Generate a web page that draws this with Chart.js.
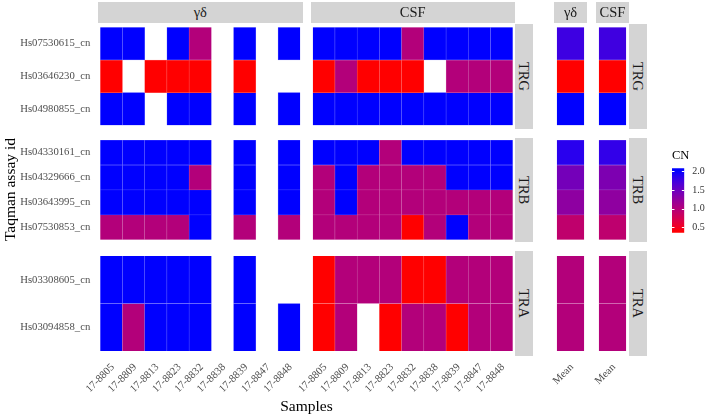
<!DOCTYPE html>
<html><head><meta charset="utf-8">
<script src="https://cdn.jsdelivr.net/npm/chart.js@4.4.1/dist/chart.umd.min.js"></script>
<style>
html,body{margin:0;padding:0;background:#fff;}
#wrap{position:relative;width:709px;height:418px;overflow:hidden;font-family:'Liberation Serif','Times New Roman',serif;}
#wrap canvas{position:absolute;left:0;top:0;}
.strip{position:absolute;background:#D4D4D4;color:#1A1A1A;font-size:14.5px;line-height:1;display:flex;align-items:center;justify-content:center;white-space:nowrap;}
.vtext{writing-mode:vertical-rl;}
.title{position:absolute;color:#000;font-size:15.5px;font-weight:normal;line-height:1;white-space:nowrap;}
.ytitle{position:absolute;color:#000;font-size:15.5px;font-weight:normal;line-height:1;white-space:nowrap;display:flex;align-items:center;justify-content:center;}
.ytitle span{writing-mode:vertical-rl;transform:rotate(180deg);}
</style></head><body><div id="wrap"></div>
<script>
// ---------------- data ----------------
const samples = ['17-8805','17-8809','17-8813','17-8823','17-8832','17-8838','17-8839','17-8847','17-8848'];
const meanLabel = ['Mean'];
const groupNames = ['γδ','CSF'];
const geneNames = ['TRG','TRB','TRA'];
const trgAssays = ['Hs07530615_cn','Hs03646230_cn','Hs04980855_cn'];
const trbAssays = ['Hs04330161_cn','Hs04329666_cn','Hs03643995_cn','Hs07530853_cn'];
const traAssays = ['Hs03308605_cn','Hs03094858_cn'];

// γδ samples (rows = assays, columns = samples)
const gdTRG = [
  [2, 2, null, 2, 1, null, 2, null, 2],
  [0.4, null, 0.4, 0.4, 0.4, null, 0.4, null, null],
  [2, 2, null, 2, 2, null, 2, null, 2]
];
const gdTRB = [
  [2, 2, 2, 2, 2, null, 2, null, 2],
  [2, 2, 2, 2, 1, null, 2, null, 2],
  [2, 2, 2, 2, 2, null, 2, null, 2],
  [1, 1, 1, 1, 2, null, 1, null, 1]
];
const gdTRA = [
  [2, 2, 2, 2, 2, null, 2, null, null],
  [2, 1, 2, 2, 2, null, 2, null, 2]
];
// CSF samples
const csfTRG = [
  [2, 2, 2, 2, 1, 2, 2, 2, 2],
  [0.4, 1, 0.4, 0.4, 0.4, null, 1, 1, 1],
  [2, 2, 2, 2, 2, 2, 2, 2, 2]
];
const csfTRB = [
  [2, 2, 2, 1, 2, 2, 2, 2, 2],
  [1, 2, 1, 1, 1, 1, 2, 2, 2],
  [1, 2, 1, 1, 1, 1, 1, 1, 1],
  [1, 1, 1, 1, 0.4, 1, 2, 1, 1]
];
const csfTRA = [
  [0.4, 1, 1, 1, 0.4, 0.4, 1, 1, 1],
  [0.4, 1, null, 0.4, 1, 1, 0.4, 1, 1]
];
// Means
const meanGdTRG = [1.76, 0.4, 2.0];
const meanCsfTRG = [1.75, 0.4, 2.0];
const meanGdTRB = [1.86, 1.44, 1.27, 0.91];
const meanCsfTRB = [1.82, 1.38, 1.26, 0.92];
const meanGdTRA = [1.0, 1.0];
const meanCsfTRA = [1.0, 1.0];

const legendTicks = [0.5, 1.0, 1.5, 2.0];
const legendLimits = [0.36, 2.08];
const colourDomain = [0.4, 2.0];

// ---------------- style / layout ----------------
const W = 709, H = 418;
const FONT = "'Liberation Serif','Times New Roman',serif";
const wrap = document.getElementById('wrap');

function colorFor(v) {
  let t = (v - colourDomain[0]) / (colourDomain[1] - colourDomain[0]);
  t = Math.max(0, Math.min(1, t));
  const r = Math.round(255 * Math.pow(1 - t, 0.75));
  const b = Math.round(255 * Math.pow(t, 0.75));
  return [r, 0, b];
}
const rgb = c => `rgb(${c[0]},${c[1]},${c[2]})`;
const tint = (c, f) => rgb(c.map(x => Math.round(x + (255 - x) * f)));

const colPanels = [[98, 302.5, 9], [310.5, 515, 9], [554, 587, 1], [596, 629, 1]];
const rowPanels = [[24, 128.6, 3], [137.6, 242.2, 4], [251.2, 355.8, 2]];
function tileRange(p) {
  const unit = (p[1] - p[0]) / (p[2] + 0.2);
  return [p[0] + 0.1 * unit, p[1] - 0.1 * unit];
}

function makePanel(values, rowLabels, colLabels, ci, ri) {
  const [l, r] = tileRange(colPanels[ci]);
  const [t, b] = tileRange(rowPanels[ri]);
  const showY = ci === 0;
  const showX = ri === 2;
  const canvas = document.createElement('canvas');
  canvas.width = W; canvas.height = H;
  wrap.appendChild(canvas);
  const datasets = values.map((rowVals, rIdx) => {
    const pts = [];
    rowVals.forEach((v, cIdx) => {
      if (v !== null && v !== undefined) pts.push({x: colLabels[cIdx], y: [rIdx - 0.5, rIdx + 0.5], v});
    });
    return {
      data: pts,
      backgroundColor: ctx => ctx.raw ? rgb(colorFor(ctx.raw.v)) : 'rgba(0,0,0,0)',
      borderColor: ctx => ctx.raw ? tint(colorFor(ctx.raw.v), 0.45) : 'rgba(0,0,0,0)',
      borderWidth: 0.5,
      borderSkipped: false,
      grouped: false,
      barPercentage: 1,
      categoryPercentage: 1
    };
  });
  const tickFont = {family: FONT, size: 10.7};
  new Chart(canvas, {
    type: 'bar',
    data: {labels: colLabels, datasets},
    options: {
      responsive: false, animation: false, events: [],
      layout: {padding: {left: showY ? 0 : l, top: t, right: W - r, bottom: showX ? 0 : H - b}},
      plugins: {legend: {display: false}, tooltip: {enabled: false}},
      scales: {
        x: {
          type: 'category', display: showX, offset: true,
          grid: {display: false, drawTicks: false}, border: {display: false},
          ticks: {autoSkip: false, maxRotation: 45, minRotation: 45, padding: 10, labelOffset: 1.5, color: '#4D4D4D', font: tickFont},
          afterFit: s => { s.height = showX ? H - b : 0; }
        },
        y: {
          type: 'linear', display: showY, min: -0.5, max: rowLabels.length - 0.5, reverse: true,
          grid: {display: false, drawTicks: false}, border: {display: false},
          afterBuildTicks: ax => { ax.ticks = rowLabels.map((_, i) => ({value: i})); },
          ticks: {autoSkip: false, callback: v => rowLabels[Math.round(v)], padding: 10, color: '#4D4D4D', font: tickFont},
          afterFit: s => { s.width = showY ? l : 0; }
        }
      }
    }
  });
}

const assayRows = [trgAssays, trbAssays, traAssays];
const gdRows = [gdTRG, gdTRB, gdTRA];
const csfRows = [csfTRG, csfTRB, csfTRA];
const meanGdRows = [meanGdTRG, meanGdTRB, meanGdTRA];
const meanCsfRows = [meanCsfTRG, meanCsfTRB, meanCsfTRA];

for (let ri = 0; ri < 3; ri++) {
  makePanel(gdRows[ri], assayRows[ri], samples, 0, ri);
  makePanel(csfRows[ri], assayRows[ri], samples, 1, ri);
  makePanel(meanGdRows[ri].map(v => [v]), assayRows[ri], meanLabel, 2, ri);
  makePanel(meanCsfRows[ri].map(v => [v]), assayRows[ri], meanLabel, 3, ri);
}

// ---------------- strips & titles ----------------
function addDiv(cls, text, css) {
  const d = document.createElement('div');
  d.className = cls; d.textContent = text;
  Object.assign(d.style, css);
  wrap.appendChild(d);
  return d;
}
colPanels.forEach((p, i) => {
  addDiv('strip', groupNames[i % 2], {left: p[0] + 'px', top: '1.5px', width: (p[1] - p[0]) + 'px', height: '21.5px'});
});
[515, 629].forEach(x => {
  rowPanels.forEach((p, i) => {
    const s = addDiv('strip', '', {left: x + 'px', top: p[0] + 'px', width: '18px', height: (p[1] - p[0]) + 'px'});
    const sp = document.createElement('span'); sp.className = 'vtext'; sp.textContent = geneNames[i];
    s.appendChild(sp);
  });
});
addDiv('title', 'Samples', {left: '306.5px', top: '398px', transform: 'translateX(-50%)'});
const yt = addDiv('ytitle', '', {left: '1px', top: '24px', width: '17px', height: '332px'});
const ytSpan = document.createElement('span'); ytSpan.textContent = 'Taqman assay id'; yt.appendChild(ytSpan);
addDiv('title', 'CN', {left: '672px', top: '148.5px', fontSize: '12.5px'});

// ---------------- colour bar legend ----------------
const lc = document.createElement('canvas');
lc.width = W; lc.height = H; wrap.appendChild(lc);
const barTicks = {
  id: 'barTicks',
  afterDatasetsDraw(chart) {
    const {ctx, chartArea: ca, scales: {y}} = chart;
    const w = ca.right - ca.left;
    ctx.save();
    ctx.strokeStyle = '#ffffff'; ctx.lineWidth = 1;
    legendTicks.forEach(v => {
      const py = Math.round(y.getPixelForValue(v)) + 0.5;
      ctx.beginPath();
      ctx.moveTo(ca.left, py); ctx.lineTo(ca.left + w / 5, py);
      ctx.moveTo(ca.right - w / 5, py); ctx.lineTo(ca.right, py);
      ctx.stroke();
    });
    ctx.restore();
  }
};
new Chart(lc, {
  type: 'bar',
  data: {labels: ['CN'], datasets: [{
    data: [legendLimits],
    backgroundColor: ctx => {
      const ch = ctx.chart;
      if (!ch.chartArea) return 'red';
      const y = ch.scales.y;
      const g = ch.ctx.createLinearGradient(0, y.getPixelForValue(legendLimits[0]), 0, y.getPixelForValue(legendLimits[1]));
      const N = 30;
      for (let k = 0; k <= N; k++) {
        const v = legendLimits[0] + (legendLimits[1] - legendLimits[0]) * k / N;
        g.addColorStop(k / N, rgb(colorFor(v)));
      }
      return g;
    },
    borderWidth: 0, barPercentage: 1, categoryPercentage: 1
  }]},
  options: {
    responsive: false, animation: false, events: [],
    layout: {padding: {left: 672, top: 168.3, right: 0, bottom: H - 232.7}},
    plugins: {legend: {display: false}, tooltip: {enabled: false}},
    scales: {
      x: {display: false, afterFit: s => { s.height = 0; }},
      y: {
        position: 'right', min: legendLimits[0], max: legendLimits[1],
        grid: {display: false, drawTicks: false}, border: {display: false},
        afterBuildTicks: ax => { ax.ticks = legendTicks.map(v => ({value: v})); },
        ticks: {callback: v => v.toFixed(1), padding: 8, color: '#333333', font: {family: FONT, size: 10}},
        afterFit: s => { s.width = W - 684.3; }
      }
    }
  },
  plugins: [barTicks]
});
</script>
</body></html>
